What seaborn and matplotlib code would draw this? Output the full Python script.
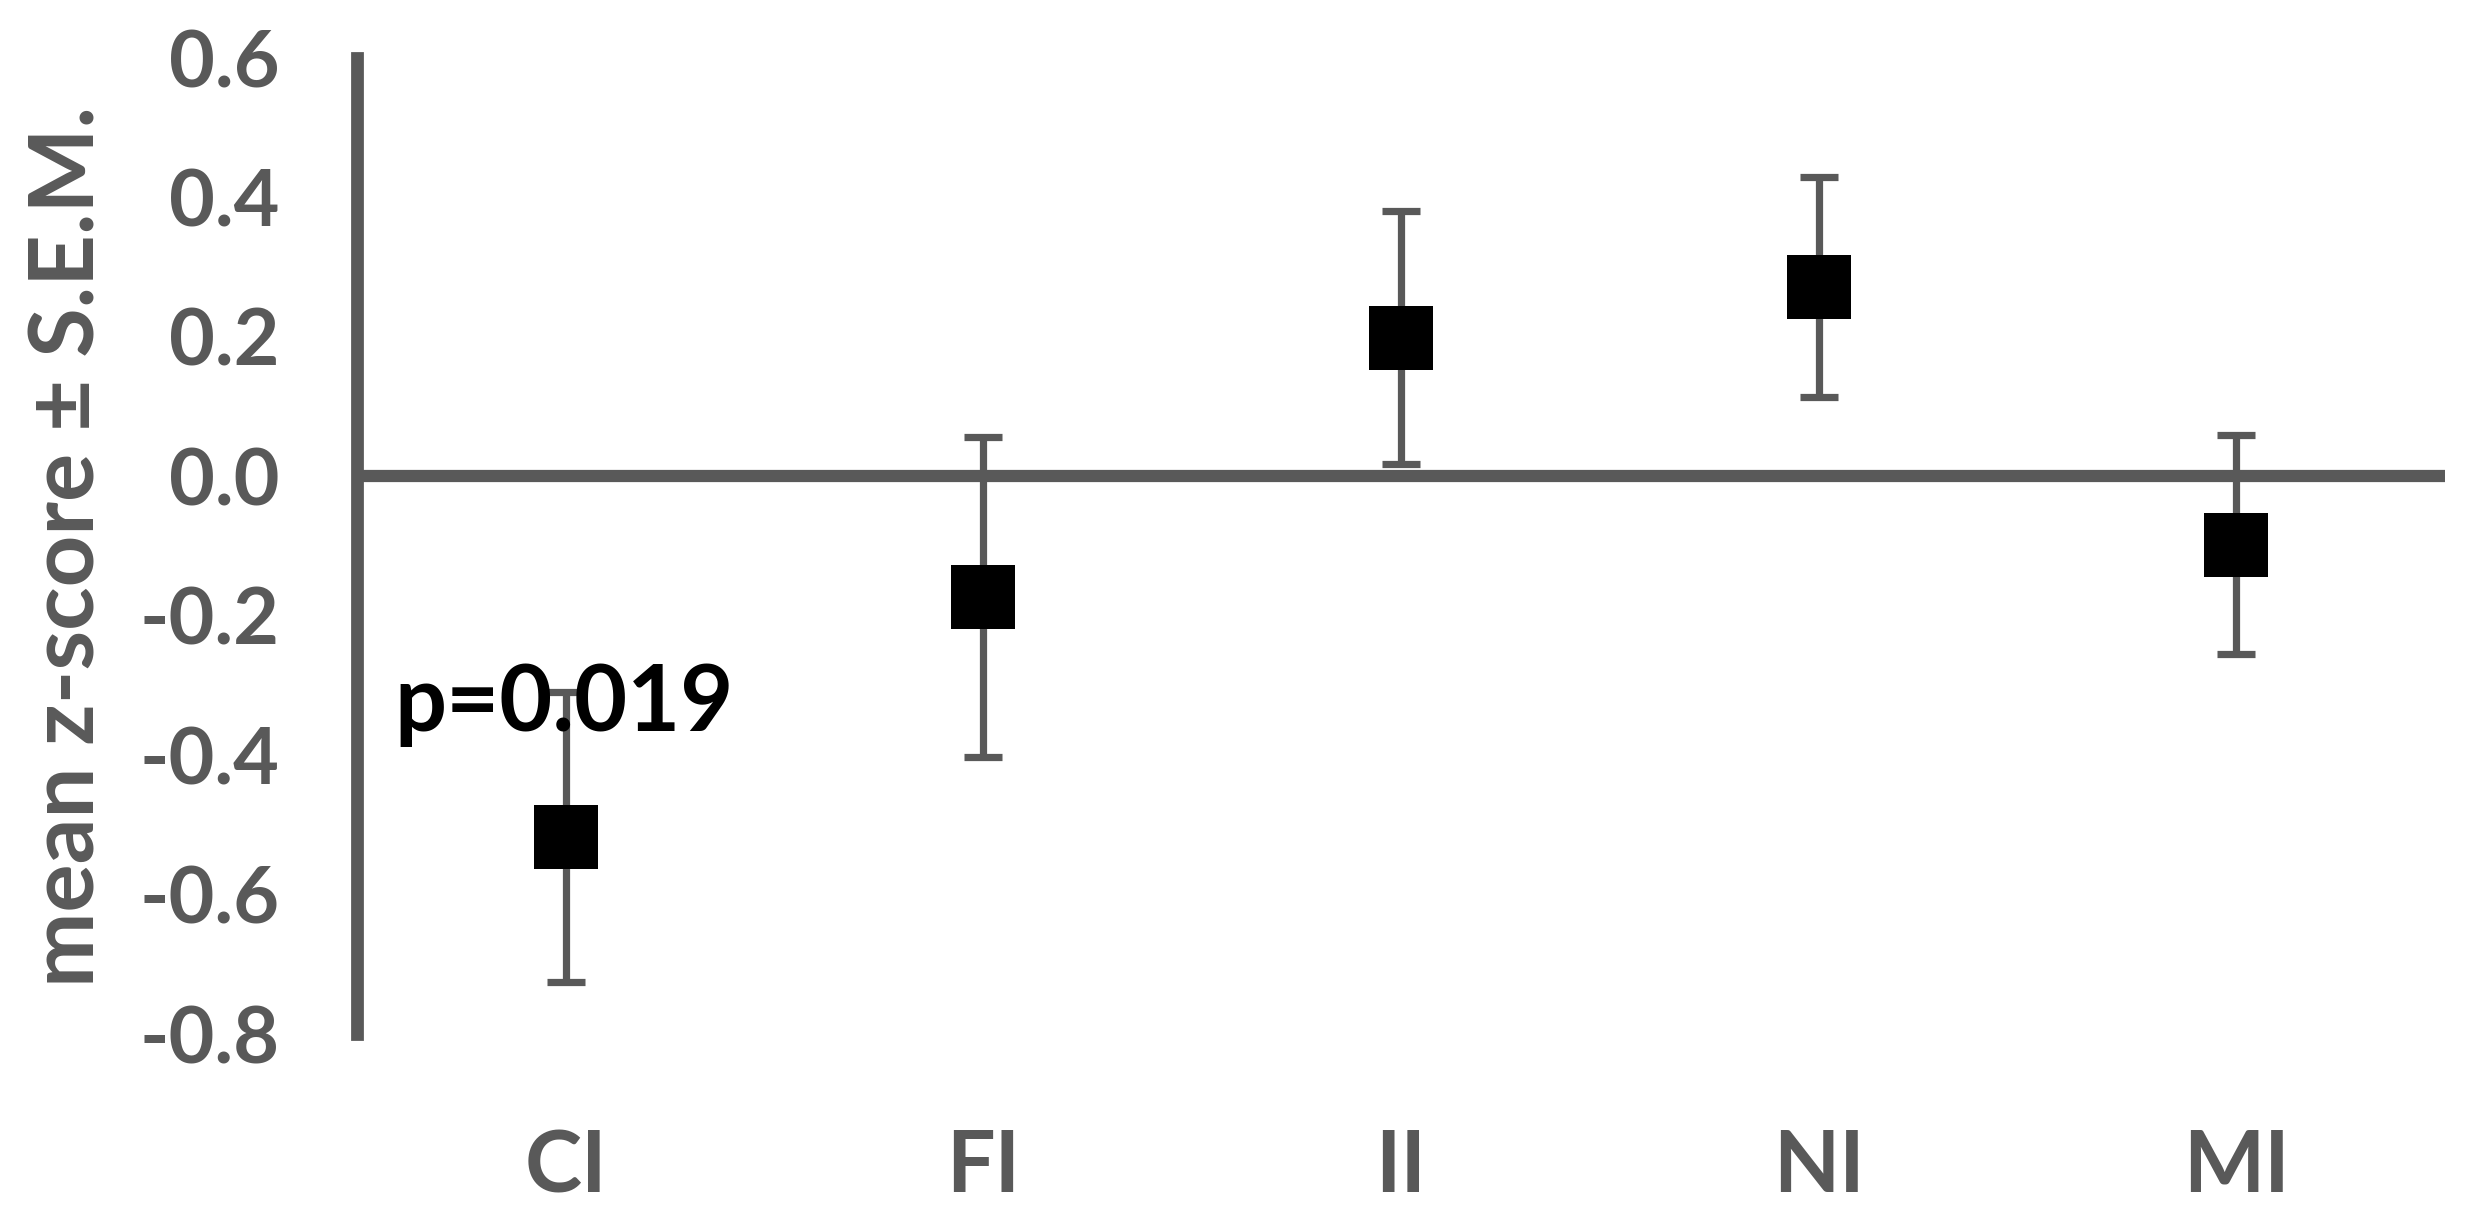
import numpy as np
import pandas as pd
import matplotlib
matplotlib.use("Agg")
import matplotlib.pyplot as plt
import seaborn as sns

# values
groups = ["CI", "FI", "II", "NI", "MI"]
mean_z = [-0.517, -0.173, 0.199, 0.272, -0.098]
sem_z  = [0.208, 0.229, 0.181, 0.158, 0.157]
y_ticks = [0.6, 0.4, 0.2, 0.0, -0.2, -0.4, -0.6, -0.8]
p_text = "p=0.019"

grey = "#595959"
wt = "bold"

sns.set_style("white")
plt.rcParams['font.family'] = ['Lato', 'DejaVu Sans']

df = pd.DataFrame({"group": groups, "mean": mean_z, "sem": sem_z})
df["pos"] = np.arange(len(groups))

fig = plt.figure(figsize=(12.34, 6.07), dpi=200)
ax = fig.add_axes([0.14465, 0.14827, 0.84603, 0.80395])

ax.errorbar(df["pos"], df["mean"], yerr=df["sem"], fmt="none",
            ecolor=grey, elinewidth=2.6, capsize=7, capthick=2.6, zorder=2)
sns.scatterplot(data=df, x="pos", y="mean", marker="s", s=520, color="black",
                edgecolor="black", linewidth=0, ax=ax, zorder=3, legend=False)

ax.axhline(0, color=grey, lw=4.4, zorder=1)

ax.set_xlim(-0.5, 4.5)
ax.set_ylim(-0.8, 0.6)
ax.set_xticks(df["pos"])
ax.set_xticklabels(groups)
ax.set_yticks(y_ticks)
ax.set_yticklabels([f"{v:.1f}" for v in y_ticks])

for s in ["top", "right", "bottom"]:
    ax.spines[s].set_visible(False)
ax.spines["left"].set_color(grey)
ax.spines["left"].set_linewidth(4.6)

ax.tick_params(axis="y", length=0, pad=28, labelsize=28.5, labelcolor=grey)
ax.tick_params(axis="x", length=0, pad=34, labelsize=31, labelcolor=grey)
for lab in ax.get_xticklabels() + ax.get_yticklabels():
    lab.set_fontweight(wt)

ax.set_xlabel("")
ax.set_ylabel("mean z-score ± S.E.M.", fontsize=32.5, fontweight=wt,
              color=grey, va="center")
ax.yaxis.set_label_coords(-0.1384, 0.5)

ax.text(-0.41, -0.365, p_text, fontsize=33, fontweight=wt, color="black",
        ha="left", va="baseline", zorder=4)

fig.savefig("out.png", dpi=200)
